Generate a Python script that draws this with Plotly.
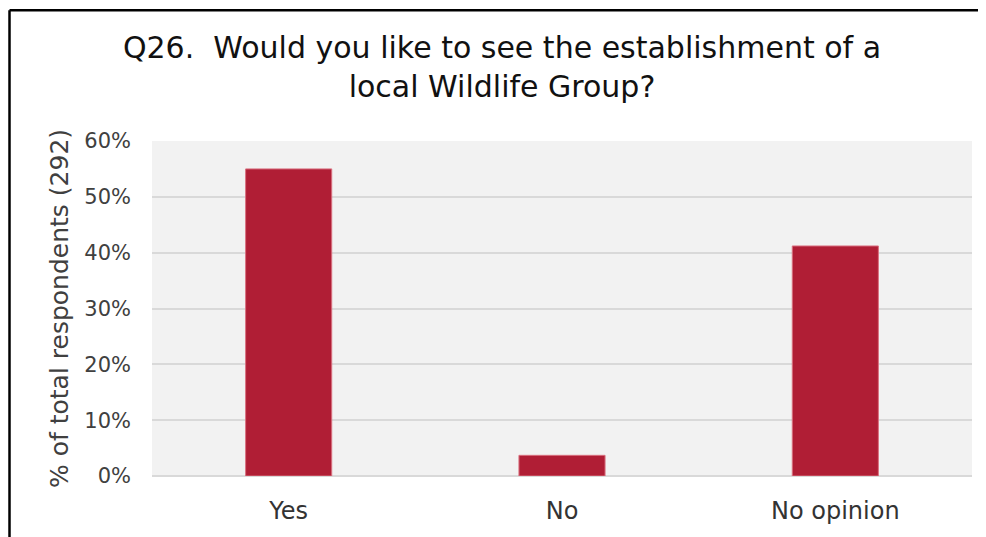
import plotly.graph_objects as go

categories = ["Yes", "No", "No opinion"]
values = [55.0, 3.7, 41.2]
y_ticks = [0, 10, 20, 30, 40, 50, 60]
y_tick_labels = ["0%", "10%", "20%", "30%", "40%", "50%", "60%"]

FONT = "DejaVu Sans, sans-serif"

fig = go.Figure()
fig.add_trace(go.Bar(
    x=categories, y=values,
    marker=dict(color="#b01e35", line=dict(color="#d9707f", width=1)),
    width=0.315,
))

# page body has an 8px margin; figure coordinates = reference - 8
W, H = 978, 529
ml, mr, mt, mb = 144, 14, 133, 59
pw, ph = W - ml - mr, H - mt - mb
bx = (1.5 - ml) / pw
by = 1 + (mt - 1.5) / ph

fig.update_layout(
    width=W, height=H,
    margin=dict(l=ml, r=mr, t=mt, b=mb),
    paper_bgcolor="white",
    plot_bgcolor="#f2f2f2",
    showlegend=False,
    font=dict(family=FONT, color="#404040"),
    title=dict(
        text="Q26.  Would you like to see the establishment of a<br>local Wildlife Group?",
        x=494 / W, xref="container", xanchor="center",
        y=1 - 50 / H, yref="container", yanchor="top",
        font=dict(size=30, color="#111111", family=FONT),
    ),
    xaxis=dict(
        tickfont=dict(size=24, color="#333333"),
        showgrid=False, ticks="", showline=False,
        ticklabelstandoff=18,
    ),
    yaxis=dict(
        range=[0, 60], tickvals=y_ticks, ticktext=y_tick_labels,
        tickfont=dict(size=21, color="#404040"),
        gridcolor="#d9d9d9", gridwidth=1.5,
        zeroline=True, zerolinecolor="#d9d9d9", zerolinewidth=1.5,
        ticks="", ticklen=0, showline=False,
        ticklabelstandoff=20,
        title=dict(text="% of total respondents (292)", font=dict(size=25, color="#404040"), standoff=8),
    ),
    shapes=[
        dict(type="line", xref="paper", yref="paper", x0=bx, x1=bx, y0=-0.5, y1=by,
             line=dict(color="black", width=2.5)),
        dict(type="line", xref="paper", yref="paper", x0=bx, x1=1.5, y0=by, y1=by,
             line=dict(color="black", width=2.5)),
    ],
)

fig.write_html("out.html")
